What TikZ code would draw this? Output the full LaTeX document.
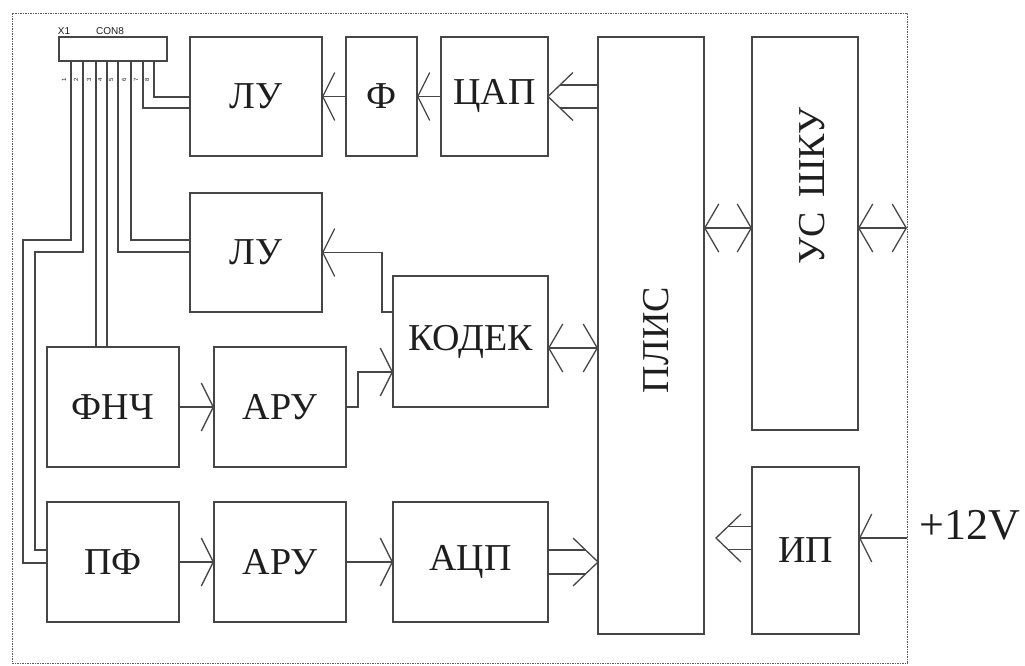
\documentclass[tikz,border=0pt]{standalone}
\usepackage{fontspec}
\setmainfont{Liberation Serif}
\newfontfamily\sansf{Liberation Sans}
\usetikzlibrary{arrows.meta,calc}
\definecolor{linec}{RGB}{70,70,70}
\definecolor{txtc}{RGB}{30,30,30}
\definecolor{brdc}{RGB}{90,90,90}
\begin{document}
\begin{tikzpicture}[x=1pt,y=-1pt,
  ln/.style={line width=1.3pt, draw=linec, line join=miter},
  blk/.style={ln, rectangle, inner sep=0pt, outer sep=0pt, font=\fontsize{38}{42}\selectfont, text=txtc},
  lbl/.style={inner sep=0pt, font=\fontsize{38}{42}\selectfont, text=txtc},
  pinlbl/.style={inner sep=0pt, font=\sansf\fontsize{6}{7}\selectfont, text=txtc, rotate=90},
  smlbl/.style={inner sep=0pt, font=\sansf\fontsize{10}{11}\selectfont, text=txtc},
  sarr/.style={ln, -{Straight Barb[length=12pt,width=48pt]}},
  barr/.style={ln, {Straight Barb[length=14pt,width=48pt]}-{Straight Barb[length=14pt,width=48pt]}},
  border/.style={line width=0.9pt, draw=brdc, dash pattern=on 2pt off 1.2pt on 0.6pt off 1.2pt},
  busv/.pic={\draw[ln] (-25,24) -- (0,0) -- (-25,-24);}
]
\useasboundingbox (0,0) rectangle (1025,666);
% frame
\draw[border] (12,13) rectangle (907,663);
% blocks
\node[blk, minimum width=108pt, minimum height=24pt] (conn) at (113,49) {};
\node[smlbl] (x1) at (64,31.5) {X1};
\node[smlbl] (con8) at (110,31.5) {CON8};
\node[blk, minimum width=132pt, minimum height=119pt] (lu1) at (256,96.5) {ЛУ};
\node[blk, minimum width=71pt, minimum height=119pt] (f) at (381.5,96.5) {Ф};
\node[blk, minimum width=107pt, minimum height=119pt] (cap) at (494.5,96.5) {ЦАП};
\node[blk, minimum width=106pt, minimum height=597pt] (plis) at (651,335.5) {};
\node[lbl, rotate=90] (plist) at (656,340) {ПЛИС};
\node[blk, minimum width=106pt, minimum height=393pt] (us) at (805,233.5) {};
\node[lbl, rotate=90] (ust) at (812,186) {УС\hspace{14pt}ШКУ};
\node[blk, minimum width=132pt, minimum height=119pt] (lu2) at (256,252.5) {ЛУ};
\node[blk, minimum width=155pt, minimum height=131pt] (kodek) at (470.5,341.5) {КОДЕК};
\node[blk, minimum width=132pt, minimum height=120pt] (fnch) at (113,407) {ФНЧ};
\node[blk, minimum width=132pt, minimum height=120pt] (aru1) at (280,407) {АРУ};
\node[blk, minimum width=132pt, minimum height=120pt] (pf) at (113,562) {ПФ};
\node[blk, minimum width=132pt, minimum height=120pt] (aru2) at (280,562) {АРУ};
\node[blk, minimum width=155pt, minimum height=120pt] (acp) at (470.5,562) {АЦП};
\node[blk, minimum width=107pt, minimum height=167pt] (ip) at (805.5,550.5) {ИП};
\node[lbl, anchor=base west, font=\fontsize{44}{48}\selectfont] (v12) at (919,539) {+12V};
% pins
\foreach \i/\x in {1/71,2/83,3/96,4/107,5/118,6/131,7/143,8/154}{
  \coordinate (p\i) at (\x,61);
  \node[pinlbl] (pl\i) at (\x-7,80) {\i};
}
\coordinate (c1) at (23,240);
\coordinate (c2) at (35,252);
\draw[ln] (p8) |- ($(lu1.north west)+(0,60)$);
\draw[ln] (p7) |- ($(lu1.north west)+(0,71)$);
\draw[ln] (p6) |- ($(lu2.north west)+(0,47)$);
\draw[ln] (p5) |- ($(lu2.north west)+(0,59)$);
\draw[ln] (p4) -- (p4 |- fnch.north);
\draw[ln] (p3) -- (p3 |- fnch.north);
\draw[ln] (p2) |- (c2) |- ($(pf.north west)+(0,48)$);
\draw[ln] (p1) |- (c1) |- ($(pf.north west)+(0,61)$);
% single arrows
\draw[sarr] (f.west) -- (lu1.east);
\draw[sarr] (cap.west) -- (f.east);
\draw[sarr] ($(kodek.north west)+(0,36)$) -- ++(-11,0) |- (lu2.east);
\draw[sarr] (fnch.east) -- (aru1.west);
\draw[sarr] (aru1.east) -- ++(12,0) |- ($(kodek.north west)+(0,96)$);
\draw[sarr] (pf.east) -- (aru2.west);
\draw[sarr] (aru2.east) -- (acp.west);
% bidirectional
\coordinate (kc) at ($(kodek.north east)+(0,72)$);
\draw[barr] (kc) -- (plis.west |- kc);
\coordinate (uc) at ($(us.north west)+(0,191)$);
\coordinate (bR) at (907,228);
\draw[barr] (plis.east |- uc) -- (uc);
\draw[barr] (us.east |- uc) -- (bR);
% bus: PLIS -> CAP
\draw[ln] ($(plis.west |- cap.east)+(0,-11.5)$) -- ($(cap.east)+(12,-11.5)$);
\draw[ln] ($(plis.west |- cap.east)+(0,11.5)$) -- ($(cap.east)+(12,11.5)$);
\pic[rotate=180] at (cap.east) {busv};
% bus: ACP -> PLIS
\coordinate (acpT) at (plis.west |- acp.east);
\draw[ln] ($(acp.east)+(0,-12)$) -- ($(acpT)+(-12.5,-12)$);
\draw[ln] ($(acp.east)+(0,12)$) -- ($(acpT)+(-12.5,12)$);
\pic at (acpT) {busv};
% bus: IP -> PLIS
\coordinate (ipA) at ($(ip.west)+(0,-12.5)$);
\coordinate (ipT) at ($(ipA)+(-36,0)$);
\draw[ln] ($(ipA)+(0,-11.5)$) -- ($(ipT)+(12,-11.5)$);
\draw[ln] ($(ipA)+(0,11.5)$) -- ($(ipT)+(12,11.5)$);
\pic[rotate=180] at (ipT) {busv};
% power input
\coordinate (pw) at (907,538);
\draw[sarr] (pw) -- (ip.east |- pw);
\end{tikzpicture}
\end{document}
